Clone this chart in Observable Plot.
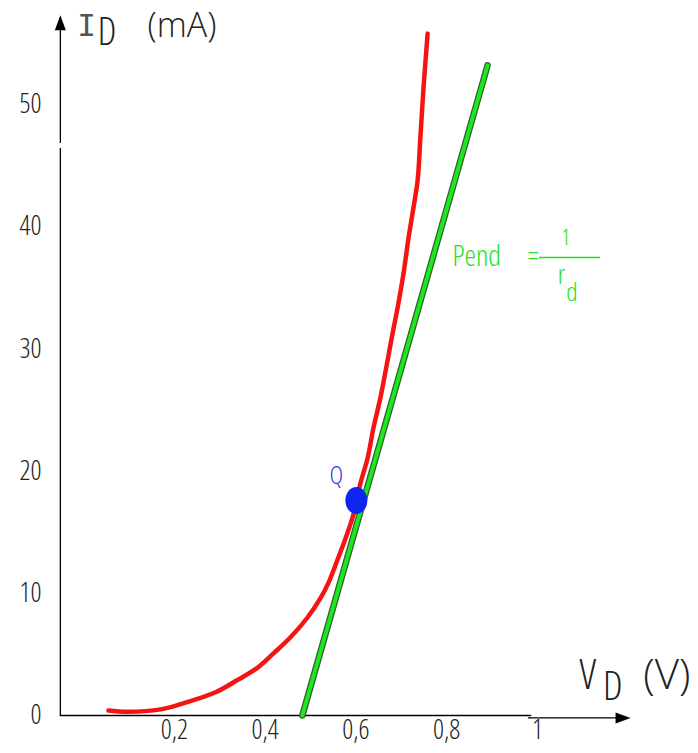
<!DOCTYPE html>
<html>
<head>
<meta charset="utf-8">
<script src="https://cdn.jsdelivr.net/npm/d3@7"></script>
<script src="https://cdn.jsdelivr.net/npm/@observablehq/plot@0.6"></script>
<style>
  html, body { margin: 0; padding: 0; background: #fff; }
  #chart svg { display: block; }
</style>
</head>
<body>
<div id="chart"></div>
<script>
// ---- Data ----
// Diode characteristic curve I_D(V_D)
const vd = [0.055, 0.097, 0.170, 0.220, 0.291, 0.339, 0.383, 0.419, 0.456, 0.493, 0.522, 0.540,
            0.559, 0.581, 0.595, 0.610, 0.626, 0.639, 0.654, 0.670, 0.681, 0.692, 0.705, 0.716,
            0.727, 0.736, 0.742, 0.749, 0.758];
const id = [0.4, 0.3, 0.5, 1.0, 1.9, 2.9, 3.9, 5.1, 6.4, 8.0, 9.6, 10.9,
            12.7, 14.9, 16.5, 19.0, 21.1, 23.6, 26.0, 29.1, 31.3, 33.4, 36.2, 39.1,
            41.6, 43.8, 47.3, 51.4, 55.8];
// Tangent line at Q (slope 1/r_d)
const tangentV = [0.482, 0.890];
const tangentI = [0, 53.2];
// Operating point Q
const qV = [0.601];
const qI = [17.6];
// Axis ticks
const xTicks = [0.2, 0.4, 0.6, 0.8, 1];
const xTickLabels = ["0,2", "0,4", "0,6", "0,8", "1"];
const yTicks = [0, 10, 20, 30, 40, 50];
const yTickLabels = ["0", "10", "20", "30", "40", "50"];
// Axis extents (data units)
const axisXMin = -0.051, axisXMax = 0.985, axisXExtEnd = 1.205, axisXExtLevel = -0.2;
const axisYTop = 57.3, axisYGapLow = 46.4, axisYGapHigh = 46.9;
// Annotation anchors (data units)
const titleI = [{text: "I", v: 0.0066, i: 56.4}];
const labels = [
  {text: "D",     v: 0.0518, i: 55.9, size: 38, stretch: "condensed"},
  {text: "(mA)",  v: 0.217,  i: 56.45, size: 34, stretch: "normal"},
  {text: "V",     v: 1.111,  i: 3.27, size: 42, stretch: "condensed"},
  {text: "D",     v: 1.166,  i: 2.29, size: 40, stretch: "condensed"},
  {text: "(V)",   v: 1.285,  i: 3.27, size: 42, stretch: "normal"}
];
const slopeLabel = [{text: "Pend", v: 0.813, i: 37.55}];
const eqLabel = [{text: "=", v: 0.991, i: 37.55}];
const fracLine = [{v1: 1.004, v2: 1.139, i: 37.48}];
const fracParts = [
  {text: "1", v: 1.062, i: 39.1, size: 22},
  {text: "r", v: 1.053, i: 36.05, size: 27},
  {text: "d", v: 1.076, i: 34.6, size: 26}
];
const qLabel = [{text: "Q", v: 0.557, i: 19.64}];

const curve = vd.map((v, k) => ({v, i: id[k]}));
const tangent = tangentV.map((v, k) => ({v, i: tangentI[k]}));
const qPoint = qV.map((v, k) => ({v, i: qI[k]}));

// ---- Custom symbols ----
const arrowUp = {draw(ctx) { ctx.moveTo(0, 0); ctx.lineTo(5.5, 15); ctx.lineTo(-5.5, 15); ctx.closePath(); }};
const arrowRight = {draw(ctx) { ctx.moveTo(0, 0); ctx.lineTo(-15, -5.5); ctx.lineTo(-15, 5.5); ctx.closePath(); }};
const ellipse = {draw(ctx) {
  const rx = 11, ry = 13.5, k = 0.5523;
  ctx.moveTo(rx, 0);
  ctx.bezierCurveTo(rx, ry * k, rx * k, ry, 0, ry);
  ctx.bezierCurveTo(-rx * k, ry, -rx, ry * k, -rx, 0);
  ctx.bezierCurveTo(-rx, -ry * k, -rx * k, -ry, 0, -ry);
  ctx.bezierCurveTo(rx * k, -ry, rx, -ry * k, rx, 0);
  ctx.closePath();
}};

const FONT = "'Open Sans', 'DejaVu Sans Condensed', 'DejaVu Sans', sans-serif";
const INK = "#222";
const GREEN = "#22e022";

const chart = Plot.plot({
  width: 698,
  height: 753,
  marginLeft: 83,
  marginRight: 161,
  marginTop: 104,
  marginBottom: 38,
  x: {domain: [0, 1], axis: null},
  y: {domain: [0, 50], axis: null},
  style: {background: "#fff", fontFamily: FONT, overflow: "visible"},
  marks: [
    // axes
    Plot.line([{v: axisXMin, i: 0}, {v: axisXMax, i: 0}], {x: "v", y: "i", stroke: "#000", strokeWidth: 1.3}),
    Plot.line([{v: axisXMax - 0.005, i: axisXExtLevel}, {v: axisXExtEnd - 0.02, i: axisXExtLevel}], {x: "v", y: "i", stroke: "#000", strokeWidth: 1.3}),
    Plot.dot([{v: axisXExtEnd, i: axisXExtLevel}], {x: "v", y: "i", symbol: arrowRight, fill: "#000", stroke: "none"}),
    Plot.line([{v: axisXMin, i: 0}, {v: axisXMin, i: axisYGapLow}], {x: "v", y: "i", stroke: "#000", strokeWidth: 1.3}),
    Plot.line([{v: axisXMin, i: axisYGapHigh}, {v: axisXMin, i: axisYTop - 1}], {x: "v", y: "i", stroke: "#000", strokeWidth: 1.3}),
    Plot.dot([{v: axisXMin, i: axisYTop}], {x: "v", y: "i", symbol: arrowUp, fill: "#000", stroke: "none"}),
    // tick labels
    Plot.text(yTicks, {y: d => d, text: (d, k) => yTickLabels[k], frameAnchor: "left", dx: -42, textAnchor: "end",
      fontSize: 27, fill: INK, fontWeight: 300, className: "cond"}),
    Plot.text(xTicks, {x: d => d, text: (d, k) => xTickLabels[k], frameAnchor: "bottom", dy: 23,
      fontSize: 27, fill: INK, fontWeight: 300, className: "cond"}),
    // axis titles
    Plot.text(titleI, {x: "v", y: "i", text: "text", fontSize: 31, fill: "#555", fontFamily: "'DejaVu Sans Mono', monospace", fontWeight: 300}),
    Plot.text(labels, {x: "v", y: "i", text: "text", fontSize: d => d.size, fill: INK, fontWeight: 300, className: "lab"}),
    // tangent line
    Plot.line(tangent, {x: "v", y: "i", stroke: "#2f5f2f", strokeWidth: 6.5}),
    Plot.line(tangent, {x: "v", y: "i", stroke: "#1de81d", strokeWidth: 4}),
    // diode curve
    Plot.line(curve, {x: "v", y: "i", stroke: "#f41414", strokeWidth: 4.5, curve: "catmull-rom"}),
    // Q point
    Plot.dot(qPoint, {x: "v", y: "i", symbol: ellipse, fill: "#1024f0", stroke: "none"}),
    Plot.text(qLabel, {x: "v", y: "i", text: "text", fontSize: 26, fill: "#3040f0", fontWeight: 300, className: "cond"}),
    // slope annotation
    Plot.text(slopeLabel, {x: "v", y: "i", text: "text", textAnchor: "start", fontSize: 29, fill: GREEN, fontWeight: 300, className: "cond"}),
    Plot.text(eqLabel, {x: "v", y: "i", text: "text", fontSize: 27, fill: GREEN, fontWeight: 300, className: "cond"}),
    Plot.ruleY(fracLine, {y: "i", x1: "v1", x2: "v2", stroke: GREEN, strokeWidth: 1.3}),
    Plot.text(fracParts, {x: "v", y: "i", text: "text", fontSize: d => d.size, fill: GREEN, fontWeight: 300, className: "cond"})
  ]
});

chart.querySelectorAll("g.cond text").forEach(t => t.style.fontStretch = "condensed");
chart.querySelectorAll("g.lab text").forEach((t, k) => t.style.fontStretch = labels[k].stretch);
document.getElementById("chart").append(chart);
</script>
</body>
</html>
